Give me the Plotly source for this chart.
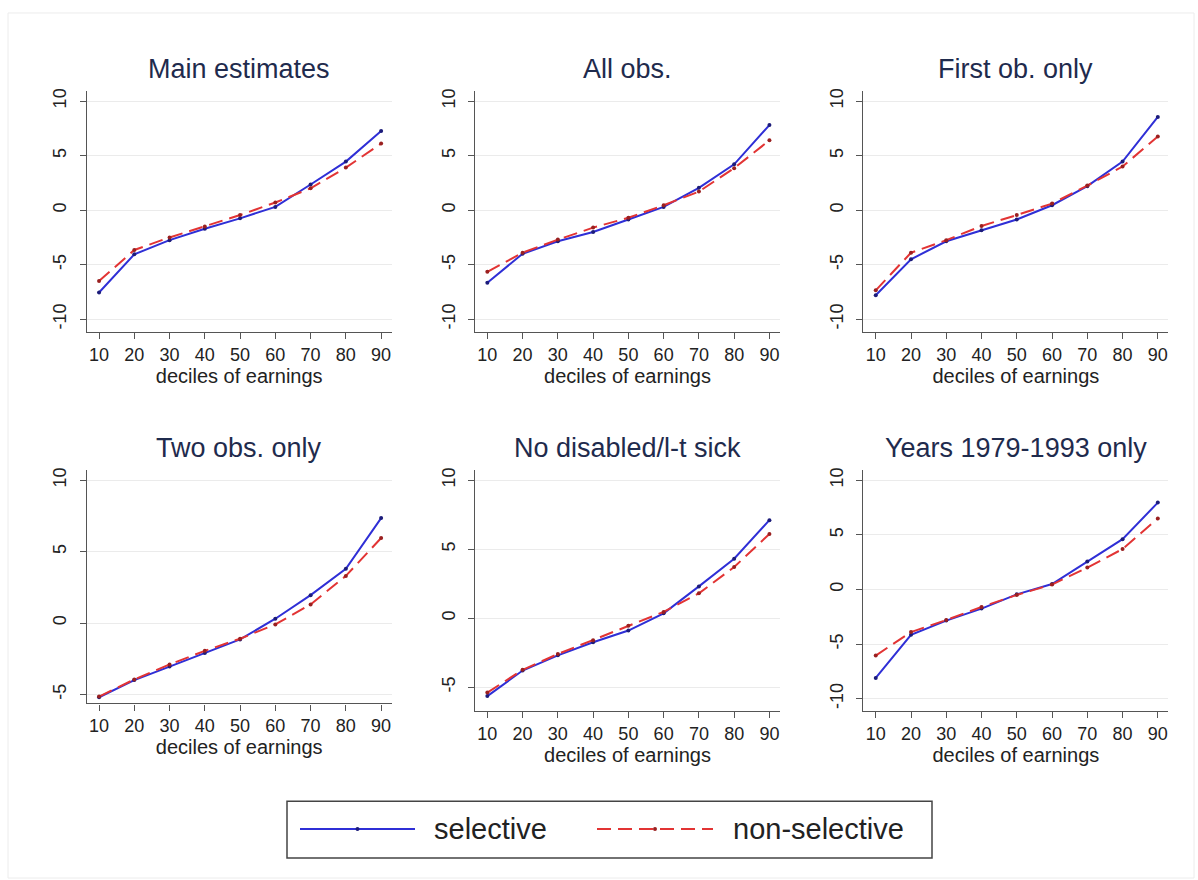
import plotly.graph_objects as go

# ---------------- data ----------------
deciles = [10, 20, 30, 40, 50, 60, 70, 80, 90]
tick_labels = ["10", "20", "30", "40", "50", "60", "70", "80", "90"]

panel_titles = ["Main estimates", "All obs.", "First ob. only",
                "Two obs. only", "No disabled/l-t sick", "Years 1979-1993 only"]

sel_main = [-7.55, -4.05, -2.75, -1.7, -0.75, 0.3, 2.35, 4.45, 7.25]
non_main = [-6.5, -3.65, -2.5, -1.5, -0.45, 0.7, 2.0, 3.9, 6.1]

sel_all = [-6.65, -4.0, -2.85, -2.0, -0.85, 0.3, 2.05, 4.2, 7.8]
non_all = [-5.65, -3.9, -2.7, -1.6, -0.7, 0.45, 1.7, 3.85, 6.4]

sel_first = [-7.8, -4.5, -2.85, -1.85, -0.85, 0.45, 2.2, 4.45, 8.55]
non_first = [-7.35, -3.9, -2.75, -1.45, -0.45, 0.6, 2.25, 4.0, 6.75]

sel_two = [-5.2, -4.0, -3.05, -2.1, -1.15, 0.3, 1.95, 3.8, 7.35]
non_two = [-5.15, -3.95, -2.9, -1.95, -1.1, -0.1, 1.3, 3.3, 5.95]

sel_nodis = [-5.65, -3.8, -2.7, -1.75, -0.9, 0.35, 2.3, 4.3, 7.1]
non_nodis = [-5.4, -3.75, -2.6, -1.6, -0.55, 0.45, 1.8, 3.7, 6.1]

sel_years = [-8.1, -4.15, -2.85, -1.75, -0.45, 0.5, 2.55, 4.6, 7.95]
non_years = [-6.05, -3.9, -2.8, -1.6, -0.5, 0.45, 2.0, 3.7, 6.5]

series_names = ["selective", "non-selective"]
y_ticks_wide = [-10, -5, 0, 5, 10]
y_ticks_narrow = [-5, 0, 5, 10]

# ---------------- layout helpers ----------------
W, H = 1198, 880
def fx(px):
    return px / W
def fy(py):
    return 1 - py / H

FONT = "Liberation Sans, Arial, Helvetica, sans-serif"
BLUE = "#2f2fd6"
RED = "#e23434"
BLUE_DOT = "#1c1c7a"
RED_DOT = "#9a2020"
AXIS = "#555555"
TXT = "#222222"
TITLE = "#1f2b4d"

col_px = [(86.7, 391.7), (475.0, 780.0), (863.4, 1168.4)]
panels = [
    # (sel, non, col, (top_px, bottom_px), yrange, yticks, title_y_px)
    (sel_main, non_main, 0, (89, 331), [-11.19, 10.94], y_ticks_wide, 67),
    (sel_all, non_all, 1, (89, 331), [-11.19, 10.94], y_ticks_wide, 67),
    (sel_first, non_first, 2, (89, 331), [-11.19, 10.94], y_ticks_wide, 67),
    (sel_two, non_two, 0, (469, 703), [-5.63, 10.72], y_ticks_narrow, 447),
    (sel_nodis, non_nodis, 1, (469, 711), [-6.76, 10.74], y_ticks_narrow, 447),
    (sel_years, non_years, 2, (469, 711), [-11.16, 10.94], y_ticks_wide, 447),
]

fig = go.Figure()
layout = {}
annotations = []

for i, (sel, non, col, (ytop, ybot), yrange, yticks, ty) in enumerate(panels):
    n = i + 1
    xa = "x" if n == 1 else f"x{n}"
    ya = "y" if n == 1 else f"y{n}"
    fig.add_trace(go.Scatter(
        x=deciles, y=sel, xaxis=xa, yaxis=ya, mode="lines+markers",
        name=series_names[0], showlegend=False,
        line=dict(color=BLUE, width=2),
        marker=dict(color=BLUE_DOT, size=4)))
    fig.add_trace(go.Scatter(
        x=deciles, y=non, xaxis=xa, yaxis=ya, mode="lines+markers",
        name=series_names[1], showlegend=False,
        line=dict(color=RED, width=2, dash="14px,7px"),
        marker=dict(color=RED_DOT, size=4)))

    x0, x1 = col_px[col]
    layout[f"xaxis{'' if n == 1 else n}"] = dict(
        domain=[fx(x0), fx(x1)], anchor=ya, range=[6.5, 93],
        tickmode="array", tickvals=deciles, ticktext=tick_labels,
        ticks="outside", ticklen=6, tickcolor=AXIS, tickwidth=1,
        showline=True, linecolor=AXIS, linewidth=1.2,
        showgrid=False, zeroline=False,
        tickfont=dict(family=FONT, size=18, color=TXT),
        title=dict(text="deciles of earnings", standoff=2,
                   font=dict(family=FONT, size=20, color=TXT)))
    layout[f"yaxis{'' if n == 1 else n}"] = dict(
        domain=[fy(ybot), fy(ytop)], anchor=xa, range=yrange,
        tickmode="array", tickvals=yticks, ticktext=[str(v) for v in yticks],
        tickangle=-90, ticklabelstandoff=6,
        ticks="outside", ticklen=6, tickcolor=AXIS, tickwidth=1,
        showline=True, linecolor=AXIS, linewidth=1.2,
        showgrid=True, gridcolor="#ebebeb", gridwidth=1, zeroline=False,
        tickfont=dict(family=FONT, size=18, color=TXT))

    annotations.append(dict(
        text=panel_titles[i], xref="paper", yref="paper",
        x=fx((x0 + x1) / 2), y=fy(ty),
        xanchor="center", yanchor="middle", showarrow=False,
        font=dict(family=FONT, size=27, color=TITLE)))

# ---------------- manual legend ----------------
leg_y = 829
shapes = [
    dict(type="rect", xref="paper", yref="paper",
         x0=fx(8), x1=fx(1194), y0=fy(878), y1=fy(11),
         line=dict(color="#ececec", width=1), layer="below"),
    dict(type="rect", xref="paper", yref="paper",
         x0=fx(287), x1=fx(932), y0=fy(858), y1=fy(801),
         line=dict(color="#444444", width=1.5), fillcolor="white"),
    dict(type="line", xref="paper", yref="paper",
         x0=fx(300), x1=fx(415), y0=fy(leg_y), y1=fy(leg_y),
         line=dict(color=BLUE, width=2)),
    dict(type="line", xref="paper", yref="paper",
         x0=fx(597), x1=fx(713), y0=fy(leg_y), y1=fy(leg_y),
         line=dict(color=RED, width=2, dash="14px,7px")),
    dict(type="circle", xref="paper", yref="paper",
         x0=fx(355.5), x1=fx(359.5), y0=fy(leg_y + 2), y1=fy(leg_y - 2),
         line=dict(color=BLUE_DOT, width=0), fillcolor=BLUE_DOT),
    dict(type="circle", xref="paper", yref="paper",
         x0=fx(653), x1=fx(657), y0=fy(leg_y + 2), y1=fy(leg_y - 2),
         line=dict(color=RED_DOT, width=0), fillcolor=RED_DOT),
]
annotations.append(dict(text=series_names[0], xref="paper", yref="paper",
                        x=fx(432), y=fy(leg_y), xanchor="left", yanchor="middle",
                        showarrow=False, font=dict(family=FONT, size=29, color=TXT)))
annotations.append(dict(text=series_names[1], xref="paper", yref="paper",
                        x=fx(731), y=fy(leg_y), xanchor="left", yanchor="middle",
                        showarrow=False, font=dict(family=FONT, size=29, color=TXT)))

fig.update_layout(
    width=W, height=H,
    margin=dict(l=0, r=0, t=0, b=0),
    paper_bgcolor="white", plot_bgcolor="white",
    showlegend=False,
    annotations=annotations, shapes=shapes,
    **layout)

fig.write_html("out.html")
